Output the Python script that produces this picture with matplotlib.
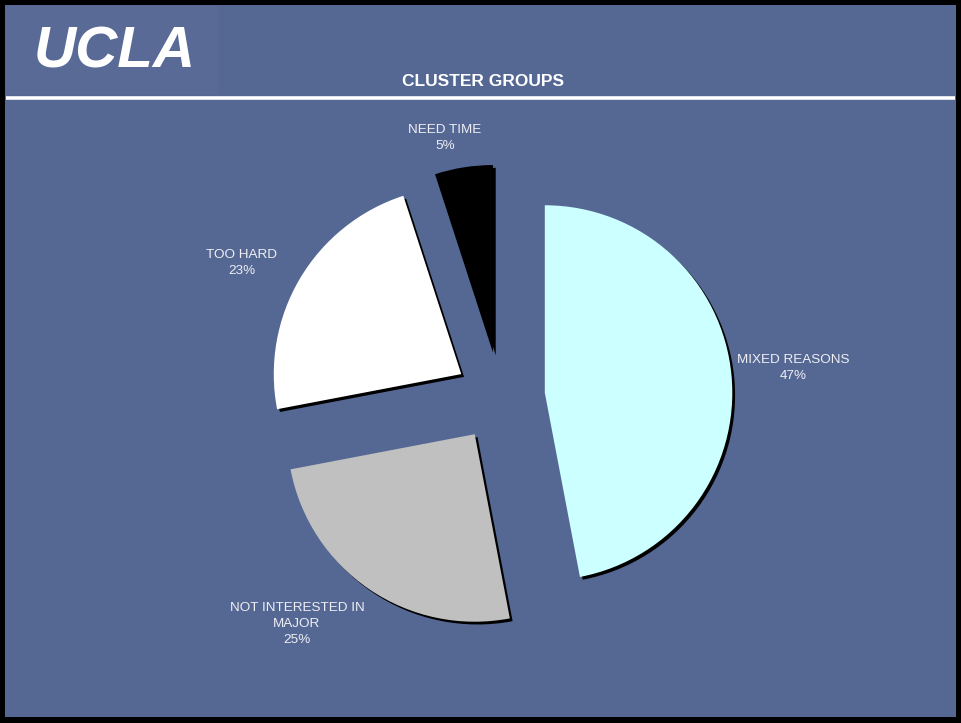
import numpy as np
import matplotlib
matplotlib.use("Agg")
import matplotlib.pyplot as plt
from matplotlib.patches import Rectangle
import matplotlib.patheffects as pe

# data
categories = ["MIXED REASONS", "NOT INTERESTED IN\nMAJOR", "TOO HARD", "NEED TIME"]
shares = [47, 25, 23, 5]
slice_colors = ["#CCFFFF", "#C0C0C0", "#FFFFFF", "#000000"]

# label centres, in pie radius units from the pie centre
label_pos = [(1.563, 0.155), (-1.083, -1.211), (-1.376, 0.715), (-0.293, 1.381)]

BG = "#556893"
W, H = 961, 723

plt.rcParams["font.family"] = ["Liberation Sans", "DejaVu Sans"]

fig = plt.figure(figsize=(W / 100, H / 100), dpi=100)
fig.patch.set_facecolor("black")

# slide background with black frame
bg = fig.add_axes([0, 0, 1, 1])
bg.set_xlim(0, W)
bg.set_ylim(H, 0)
bg.axis("off")
bg.add_patch(Rectangle((5, 5), W - 10, H - 11, facecolor=BG, edgecolor="none"))
bg.add_patch(Rectangle((6, 6), 212, 89, facecolor="#586A95", edgecolor="none"))
bg.plot([6, W - 6], [98, 98], color="white", lw=2.6, solid_capstyle="butt")
bg.text(34, 53, "UCLA", color="white", fontsize=42, fontweight="bold",
        style="italic", va="center", ha="left")
bg.text(483, 82, "CLUSTER GROUPS", color="white", fontsize=12.5,
        fontweight="bold", ha="center", va="center")

# pie: centre at (500, 397) px, radius ~188 px
cx, cy, side = 500, 397, 600
ax = fig.add_axes([(cx - side / 2) / W, 1 - (cy + side / 2) / H, side / W, side / H])

explode = [0.24] * len(shares)
wedges, _ = ax.pie(shares, colors=slice_colors, explode=explode, startangle=90,
                   counterclock=False, radius=1.0,
                   wedgeprops=dict(linewidth=0))
ax.set_xlim(-1.6, 1.6)
ax.set_ylim(-1.6, 1.6)
ax.set_aspect("equal")
ax.axis("off")
for w in wedges:
    w.set_path_effects([pe.SimplePatchShadow(offset=(2.0, -2.0), shadow_rgbFace="black",
                                             alpha=1.0), pe.Normal()])

total = sum(shares)
for cat, v, (lx, ly) in zip(categories, shares, label_pos):
    ax.text(lx, ly, f"{cat}\n{v / total * 100:.0f}%",
            ha="center", va="center", color="#EEEEF4", fontsize=9.7,
            linespacing=1.4)

fig.savefig("out.png", dpi=100, facecolor=fig.get_facecolor())
